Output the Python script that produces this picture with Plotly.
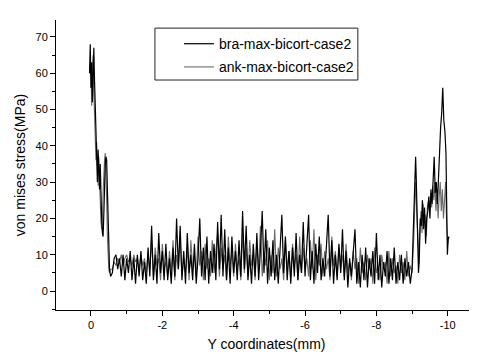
import plotly.graph_objects as go

# ---------------- data ----------------
# head segment (dense sampling near the left edge)
head_x = [0.04, 0.02, 0.0, -0.02, -0.04, -0.06, -0.08, -0.10, -0.12, -0.14,
          -0.16, -0.18, -0.20, -0.22, -0.24, -0.26, -0.28, -0.30, -0.32, -0.34,
          -0.36, -0.38, -0.40, -0.42, -0.44, -0.46, -0.48, -0.50, -0.52, -0.55]
bra_head = [60, 68, 56, 63, 52, 62, 67, 58, 50, 42,
            38, 30, 39, 32, 28, 35, 25, 20, 16, 15,
            21, 30, 35, 37, 36, 28, 20, 12, 6, 4]
ank_head = [62, 60, 62, 51, 61, 65, 55, 48, 40, 36,
            41, 33, 29, 37, 30, 25, 19, 17, 20, 27,
            33, 36, 38, 33, 25, 15, 9, 6, 5, 6]

# middle segment: sampled every 0.05 mm from -0.60 to -9.00
mid_start = -0.60
mid_step = -0.05
bra_mid = [5, 9, 10, 6, 9, 4, 10, 3, 9, 5,
           11, 3, 9, 2, 10, 4, 11, 3, 8, 2,
           12, 4, 18, 3, 10, 2, 16, 5, 11, 3,
           13, 3, 9, 2, 12, 4, 20, 6, 18, 3,
           11, 2, 16, 5, 10, 3, 13, 2, 9, 20,
           4, 12, 3, 15, 2, 11, 5, 13, 3, 19,
           6, 21, 4, 17, 3, 12, 2, 15, 5, 11,
           3, 14, 4, 22, 6, 18, 3, 10, 2, 13,
           4, 16, 3, 11, 22, 5, 17, 2, 12, 4,
           14, 3, 10, 2, 13, 21, 5, 15, 3, 11,
           2, 12, 4, 16, 3, 10, 5, 19, 4, 14,
           21, 3, 11, 2, 13, 5, 15, 3, 9, 4,
           12, 21, 4, 14, 2, 10, 3, 13, 5, 17,
           3, 11, 1, 9, 4, 12, 17, 2, 8, 1,
           10, 3, 12, 1, 9, 4, 11, 2, 16, 3,
           10, 1, 8, 4, 11, 2, 9, 3, 12, 2,
           8, 3, 10, 2, 9, 4, 8, 2, 6]
ank_mid = [6, 8, 7, 9, 8, 10, 7, 9, 10, 8,
           9, 7, 10, 8, 9, 6, 10, 7, 9, 5,
           10, 6, 14, 4, 12, 7, 9, 3, 13, 6,
           8, 4, 11, 5, 14, 3, 10, 6, 15, 4,
           9, 5, 12, 3, 14, 6, 10, 4, 15, 7,
           11, 3, 13, 6, 9, 4, 14, 5, 11, 16,
           4, 12, 6, 10, 3, 15, 7, 11, 4, 13,
           6, 9, 3, 16, 5, 12, 4, 14, 7, 10,
           3, 13, 6, 18, 4, 11, 7, 14, 3, 10,
           5, 17, 4, 12, 6, 9, 3, 14, 6, 11,
           4, 13, 7, 10, 3, 15, 5, 12, 6, 9,
           4, 14, 6, 17, 3, 10, 7, 13, 4, 11,
           6, 9, 3, 15, 7, 11, 4, 12, 6, 10,
           4, 13, 5, 8, 3, 11, 6, 9, 2, 12,
           5, 8, 3, 10, 6, 9, 2, 12, 5, 7,
           3, 10, 6, 8, 2, 11, 4, 9, 5, 7,
           2, 10, 5, 8, 3, 11, 4, 7, 5]

# tail segment (right edge)
bra_tail_x = [-9.02, -9.05, -9.08, -9.10, -9.12, -9.15, -9.18, -9.20, -9.23, -9.26,
              -9.29, -9.32, -9.35, -9.38, -9.41, -9.44, -9.47, -9.50, -9.53, -9.56,
              -9.59, -9.62, -9.65, -9.68, -9.71, -9.74, -9.77, -9.80, -9.83, -9.86,
              -9.89, -9.92, -9.95, -9.97, -9.99, -10.01, -10.03]
bra_tail = [12, 22, 33, 37, 30, 12, 5, 8, 20, 18,
            25, 17, 23, 13, 20, 22, 26, 20, 28, 24,
            33, 37, 27, 30, 24, 31, 40, 45, 49, 56,
            47, 44, 38, 20, 10, 14, 15]
ank_tail_x = [-9.02, -9.05, -9.08, -9.10, -9.13, -9.16, -9.19, -9.22, -9.25, -9.28,
              -9.31, -9.34, -9.37, -9.40, -9.43, -9.46, -9.49, -9.52, -9.55, -9.58,
              -9.61, -9.64, -9.67, -9.70, -9.73, -9.76, -9.79, -9.82, -9.85, -9.88,
              -9.91, -9.94, -9.97, -10.00, -10.03]
ank_tail = [8, 15, 25, 30, 22, 14, 9, 17, 22, 16,
            24, 19, 21, 15, 23, 25, 22, 27, 23, 29,
            25, 30, 22, 28, 20, 26, 30, 22, 28, 20,
            25, 30, 18, 13, 15]

x_tick_vals = [0, -2, -4, -6, -8, -10]
y_tick_vals = [0, 10, 20, 30, 40, 50, 60, 70]
series_names = ["bra-max-bicort-case2", "ank-max-bicort-case2"]

# ---------------- assemble ----------------
mid_x = [round(mid_start + mid_step * i, 3) for i in range(len(bra_mid))]
bra_x = head_x + mid_x + bra_tail_x
bra_y = bra_head + bra_mid + bra_tail
ank_x = head_x + mid_x + ank_tail_x
ank_y = ank_head + ank_mid + ank_tail

fig = go.Figure()
fig.add_trace(go.Scatter(x=ank_x, y=ank_y, mode="lines", name=series_names[1],
                         legendgroup="b", legendrank=2,
                         line=dict(color="#6a6a6a", width=1.1)))
fig.add_trace(go.Scatter(x=bra_x, y=bra_y, mode="lines", name=series_names[0],
                         legendgroup="a", legendrank=1,
                         line=dict(color="#000000", width=1.2)))

font_family = "Liberation Sans, Arial, sans-serif"
# the page body adds an 8px offset; margins compensate so the axes sit where the reference has them
fig.update_layout(
    width=477, height=354,
    margin=dict(l=48, r=8, t=12, b=52),
    paper_bgcolor="white", plot_bgcolor="white",
    font=dict(family=font_family, color="black", size=11),
    showlegend=True,
    legend=dict(x=0.292, y=0.972, xanchor="left", yanchor="top",
                borderwidth=0, bgcolor="rgba(0,0,0,0)",
                font=dict(size=14, family=font_family),
                tracegroupgap=2),
    shapes=[dict(type="rect", xref="paper", yref="paper",
                 x0=0.235, x1=0.717, y0=0.793, y1=0.972,
                 line=dict(color="#222", width=1), fillcolor="white", layer="above")],
)
# keep the legend box behind the legend entries but above the data
fig.layout.shapes[0].layer = "above"
fig.update_xaxes(
    range=[0.98, -10.82], showgrid=False, zeroline=False,
    showline=True, linecolor="black", linewidth=1,
    ticks="outside", ticklen=5, tickcolor="black",
    tickvals=x_tick_vals, ticktext=[str(v) for v in x_tick_vals],
    minor=dict(ticks="outside", ticklen=3, dtick=1, tick0=0, tickcolor="black"),
    title=dict(text="Y coordinates(mm)", font=dict(size=14), standoff=8),
    tickfont=dict(size=11),
)
fig.update_yaxes(
    range=[-5.23, 74.65], showgrid=False, zeroline=False,
    showline=True, linecolor="black", linewidth=1,
    ticks="outside", ticklen=5, tickcolor="black",
    tickvals=y_tick_vals,
    minor=dict(ticks="outside", ticklen=3, dtick=5, tick0=0, tickcolor="black"),
    title=dict(text="von mises stress(MPa)", font=dict(size=14), standoff=6),
    tickfont=dict(size=11),
)

fig.write_html("out.html")
